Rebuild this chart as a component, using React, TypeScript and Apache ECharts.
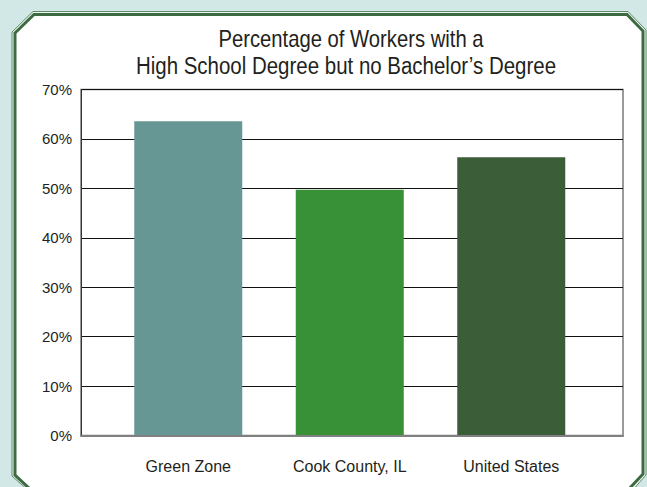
import React, { useEffect, useRef } from "react";
import * as echarts from "echarts";

const categories = ["Green Zone", "Cook County, IL", "United States"];
const values = [63.6, 49.7, 56.3];
const barColors = ["#679795", "#389137", "#3b5d38"];
const titleLines = ["Percentage of Workers with a", "High School Degree but no Bachelor\u2019s Degree"];
const yTicks = { min: 0, max: 70, interval: 10 };

const FONT = "'Liberation Sans', Arial, sans-serif";

export default function App() {
  const ref = useRef<HTMLDivElement>(null);
  useEffect(() => {
    document.body.style.margin = "0";
    const chart = echarts.init(ref.current!, null, { renderer: "svg" });
    const inner = [
      [15, 33], [34, 14.5], [627, 14.5], [643, 31], [643, 474], [628, 490], [31, 490], [15, 475],
    ];
    const outer = [
      [12, 32], [33, 11.5], [628, 11.5], [646, 30], [646, 475], [631, 492], [30, 492], [12, 476],
    ];
    chart.setOption({
      animation: false,
      backgroundColor: "#d1e8e7",
      graphic: [
        { type: "polygon", z: -10, shape: { points: outer }, style: { fill: "#eef6f2", stroke: "#5f8a66", lineWidth: 1 } },
        { type: "polygon", z: -9, shape: { points: inner }, style: { fill: "#ffffff", stroke: "#3d6b41", lineWidth: 3 } },
        {
          type: "text", x: 351, y: 28, z: 10, scaleX: 0.88,
          style: { text: titleLines[0], textAlign: "center", fill: "#231f20", font: `23px ${FONT}` },
        },
        {
          type: "text", x: 346, y: 55, z: 10, scaleX: 0.89,
          style: { text: titleLines[1], textAlign: "center", fill: "#231f20", font: `23px ${FONT}` },
        },
      ],
      grid: [
        { left: 81, right: 24, top: 89.5, bottom: 51.5, show: true, backgroundColor: "#ffffff", borderColor: "#7a7a7a", borderWidth: 1.5, z: 0 },
        { left: 107.5, right: 55, top: 89.5, bottom: 51.5 },
      ],
      xAxis: [
        {
          gridIndex: 0, type: "category", data: ["", "", ""], z: 5,
          axisLine: { show: true, lineStyle: { color: "#808080", width: 2 } },
          axisTick: { show: false }, axisLabel: { show: false }, splitLine: { show: false },
        },
        {
          gridIndex: 1, type: "category", data: categories,
          axisLine: { show: false }, axisTick: { show: false },
          axisLabel: { color: "#231f20", fontSize: 16, fontFamily: FONT, margin: 23 },
        },
      ],
      yAxis: [
        {
          gridIndex: 0, type: "value", min: yTicks.min, max: yTicks.max, interval: yTicks.interval,
          axisLine: { show: true, lineStyle: { color: "#333333", width: 1 } },
          axisTick: { show: false },
          axisLabel: { formatter: "{value}%", color: "#231f20", fontSize: 15, fontFamily: FONT, margin: 9 },
          splitLine: { show: true, lineStyle: { color: "#111111", width: 1 } },
        },
        {
          gridIndex: 1, type: "value", min: yTicks.min, max: yTicks.max, interval: yTicks.interval,
          show: false, splitLine: { show: false },
        },
      ],
      series: [
        {
          type: "bar", xAxisIndex: 1, yAxisIndex: 1, barWidth: 108,
          data: values.map((v, i) => ({ value: v, itemStyle: { color: barColors[i] } })),
        },
      ],
    });
    return () => chart.dispose();
  }, []);
  return <div ref={ref} style={{ position: "fixed", left: 0, top: 0, width: 647, height: 487 }} />;
}
